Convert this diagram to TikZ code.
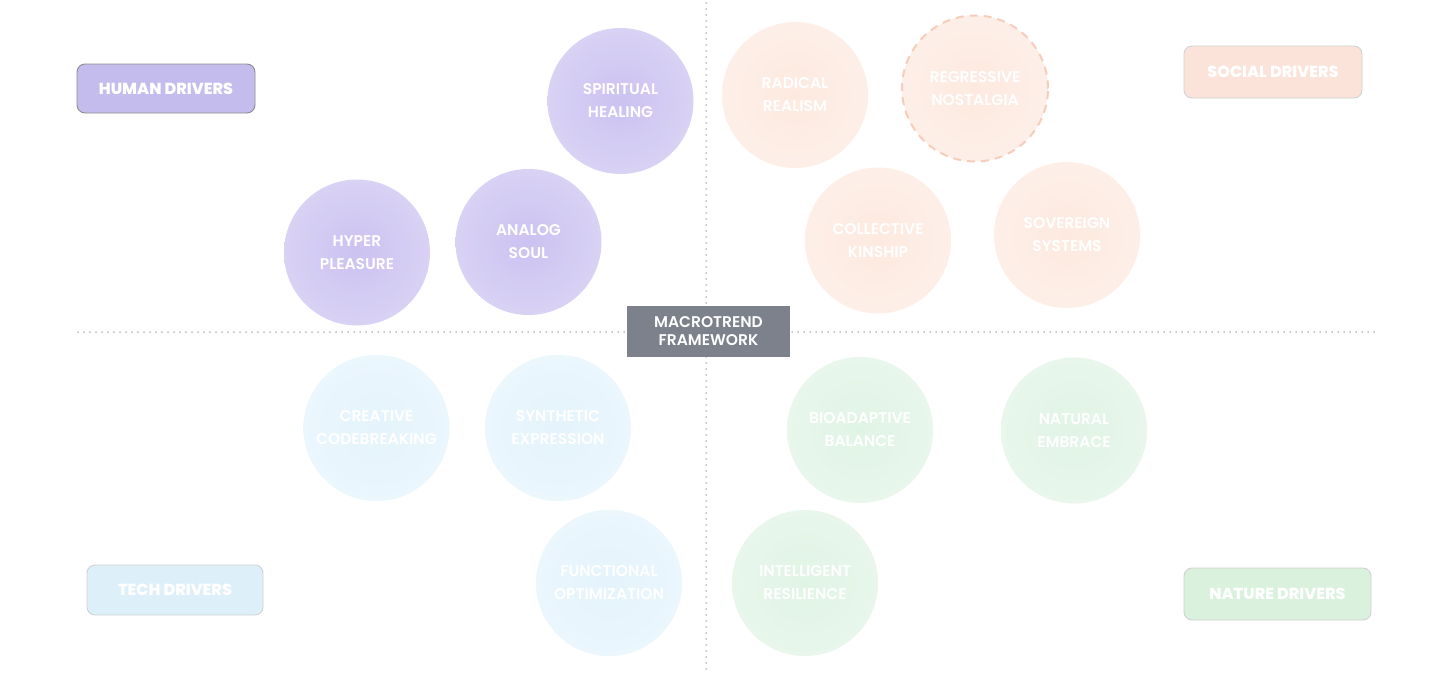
\documentclass[tikz,border=0pt]{standalone}
\usepackage{fontspec}
\newfontfamily\popsemi{Poppins SemiBold}
\newfontfamily\popxb{Poppins ExtraBold}
\definecolor{hIn}{HTML}{CBC2F1}
\definecolor{hOut}{HTML}{E6E2F7}
\definecolor{sIn}{HTML}{FDE9DF}
\definecolor{sOut}{HTML}{FEF5F1}
\definecolor{tIn}{HTML}{E4F3FC}
\definecolor{tOut}{HTML}{F2F9FE}
\definecolor{nIn}{HTML}{E0F4E5}
\definecolor{nOut}{HTML}{F0F9F2}
\definecolor{hBox}{HTML}{C5BCEE}
\definecolor{sBox}{HTML}{FBE3DA}
\definecolor{tBox}{HTML}{DDF0FA}
\definecolor{nBox}{HTML}{D9F1DD}
\definecolor{cBox}{HTML}{7D818C}
\definecolor{dotc}{HTML}{8C8C8C}
\definecolor{dashc}{HTML}{F5CDBB}
\pgfdeclareradialshading{hshade}{\pgfpoint{0bp}{0bp}}{color(0bp)=(hIn); color(50bp)=(hOut)}
\pgfdeclareradialshading{sshade}{\pgfpoint{0bp}{0bp}}{color(0bp)=(sIn); color(50bp)=(sOut)}
\pgfdeclareradialshading{tshade}{\pgfpoint{0bp}{0bp}}{color(0bp)=(tIn); color(50bp)=(tOut)}
\pgfdeclareradialshading{nshade}{\pgfpoint{0bp}{0bp}}{color(0bp)=(nIn); color(50bp)=(nOut)}
\tikzset{
  trend/.style={circle, minimum size=146pt, inner sep=0pt, align=center, text=white,
    font=\popsemi\fontsize{15.5}{23}\selectfont},
  human/.style={trend, shading=hshade},
  social/.style={trend, shading=sshade},
  tech/.style={trend, shading=tshade},
  nature/.style={trend, shading=nshade},
  driver/.style={rounded corners=8pt, draw=black!18, line width=0.9pt, minimum height=50pt,
    text=white, font=\popxb\fontsize{16}{18}\selectfont},
  axis/.style={dotc, line width=1.5pt, line cap=round, dash pattern=on 0pt off 6pt},
}
\begin{document}
\begin{tikzpicture}[x=1pt,y=-1pt]
\useasboundingbox (0,0) rectangle (1456,680);
\fill[white] (0,0) rectangle (1456,680);
% axes
\coordinate (vtop) at (706,3);
\coordinate (vbot) at (706,670);
\coordinate (hl) at (78,332);
\coordinate (hr) at (1375,332);
\draw[axis] (vtop) -- (vbot);
\draw[axis] (hl) -- (hr);
% center
\node[fill=cBox, minimum width=163pt, minimum height=51pt, inner sep=0pt, align=center, text=white,
  font=\popsemi\fontsize{15.5}{18}\selectfont] (center) at (708.5,331.5) {MACROTREND\\FRAMEWORK};
% drivers
\node[driver, fill=hBox, draw=black!45, minimum width=178pt, minimum height=49pt] (hd) at (166,88.5) {HUMAN DRIVERS};
\node[driver, fill=sBox, minimum width=178pt, minimum height=52pt] (sd) at (1273,72) {SOCIAL DRIVERS};
\node[driver, fill=tBox, minimum width=176pt, minimum height=50pt] (td) at (175,590) {TECH DRIVERS};
\node[driver, fill=nBox, minimum width=187pt, minimum height=52pt] (nd) at (1277.5,594) {NATURE DRIVERS};
% human
\node[human] (sh) at (620.5,101) {SPIRITUAL\\HEALING};
\node[human] (hp) at (357,252.5) {HYPER\\PLEASURE};
\node[human] (as) at (528.5,242) {ANALOG\\SOUL};
% social
\node[social] (rr) at (795,95) {RADICAL\\REALISM};
\node[social, draw=dashc, line width=2pt, dash pattern=on 8pt off 6pt] (rn) at (975,88.5) {REGRESSIVE\\NOSTALGIA};
\node[social] (ck) at (878,240.5) {COLLECTIVE\\KINSHIP};
\node[social] (ss) at (1067,235) {SOVEREIGN\\SYSTEMS};
% tech
\node[tech] (cc) at (376.5,428) {CREATIVE\\CODEBREAKING};
\node[tech] (se) at (558,428) {SYNTHETIC\\EXPRESSION};
\node[tech] (fo) at (609,583) {FUNCTIONAL\\OPTIMIZATION};
% nature
\node[nature] (bb) at (860,430) {BIOADAPTIVE\\BALANCE};
\node[nature] (ne) at (1074,430.5) {NATURAL\\EMBRACE};
\node[nature] (ir) at (805,583) {INTELLIGENT\\RESILIENCE};
\end{tikzpicture}
\end{document}
